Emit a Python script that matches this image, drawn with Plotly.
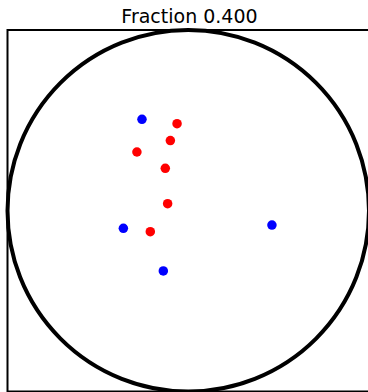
import plotly.graph_objects as go

title_text = "Fraction 0.400"
blue_x = [-0.256, -0.359, -0.138, 0.463]
blue_y = [0.506, -0.097, -0.333, -0.079]
red_x = [-0.062, -0.099, -0.284, -0.127, -0.114, -0.210]
red_y = [0.482, 0.388, 0.325, 0.235, 0.039, -0.116]

W, H = 368, 392
cx, cy, r = 188.25, 210.75, 180.75  # pixel mapping of data (0,0) and unit length

fig = go.Figure()
fig.add_trace(go.Scatter(x=blue_x, y=blue_y, mode="markers",
                         marker=dict(color="#0000ff", size=9.5, line=dict(width=0)),
                         showlegend=False, hoverinfo="skip"))
fig.add_trace(go.Scatter(x=red_x, y=red_y, mode="markers",
                         marker=dict(color="#ff0000", size=9.5, line=dict(width=0)),
                         showlegend=False, hoverinfo="skip"))

fig.add_shape(type="rect", xref="x", yref="y", x0=-1, y0=-1, x1=1, y1=1,
              line=dict(color="black", width=2), layer="below")
fig.add_shape(type="circle", xref="x", yref="y", x0=-1, y0=-1, x1=1, y1=1,
              line=dict(color="black", width=4), layer="above")

fig.update_layout(
    width=W, height=H,
    margin=dict(l=0, r=0, t=0, b=0),
    paper_bgcolor="white", plot_bgcolor="white",
    xaxis=dict(range=[-cx / r, (W - cx) / r], visible=False, showgrid=False, zeroline=False),
    yaxis=dict(range=[(cy - H) / r, cy / r], visible=False, showgrid=False, zeroline=False),
    title=dict(text=title_text, x=189.5 / W, xanchor="center", y=1 - 16 / H, yanchor="middle",
               font=dict(family="DejaVu Sans", size=19, color="black")),
)
fig.write_html("out.html", config={"displayModeBar": False, "staticPlot": True},
               post_script="document.body.style.margin='0';document.body.style.overflow='hidden';")
